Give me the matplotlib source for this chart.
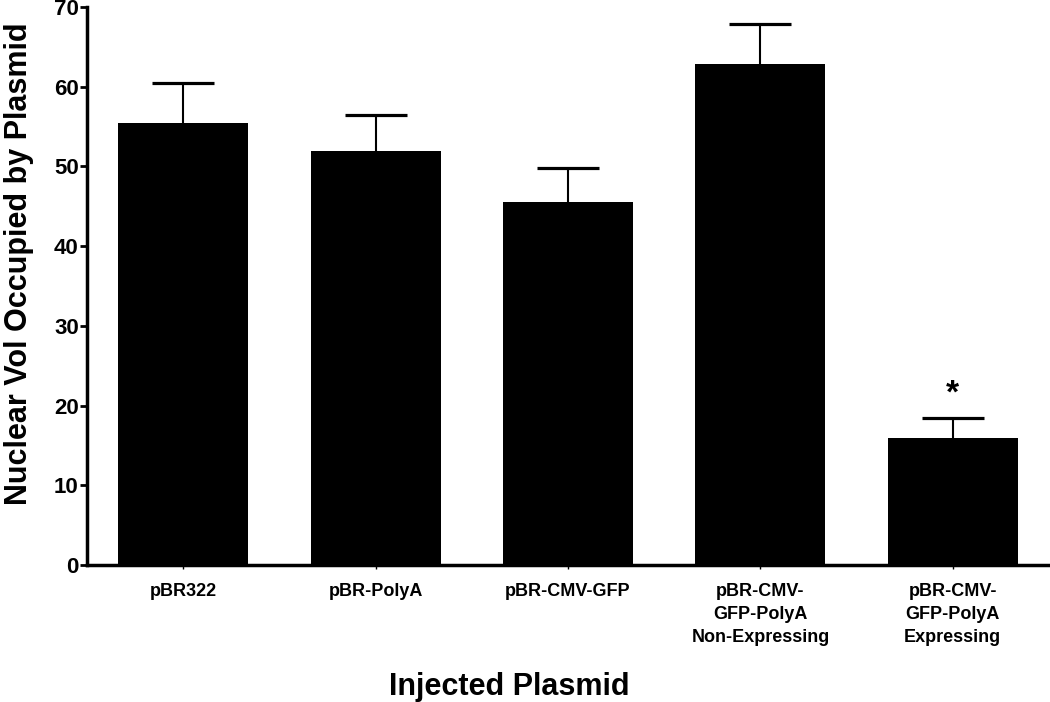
import matplotlib
matplotlib.use('Agg')
from matplotlib import pyplot as plt

plt.rcParams['font.family'] = ['Liberation Sans', 'DejaVu Sans']

# 数据
labels = ['pBR322', 'pBR-PolyA', 'pBR-CMV-GFP',
          'pBR-CMV-\nGFP-PolyA\nNon-Expressing',
          'pBR-CMV-\nGFP-PolyA\nExpressing']
means = [55.4, 52.0, 45.6, 62.9, 15.9]
errors = [5.1, 4.5, 4.2, 5.0, 2.6]

fig = plt.figure(figsize=(10.5, 7.02), dpi=100)
ax = fig.add_axes([0.083, 0.195, 0.916, 0.795])

x = range(len(labels))
ax.bar(x, means, 0.675, color='black', zorder=2)
eb = ax.errorbar(x, means, yerr=[[0] * len(errors), errors], fmt='none',
                 ecolor='black', elinewidth=1.5, capsize=22, capthick=2.3,
                 zorder=1)
# 只保留上方的横帽
eb[1][0].set_visible(False)

# 显著性标记
ax.text(4, means[4] + errors[4] + 1.0, '*', ha='center', va='bottom',
        fontsize=24, fontweight='bold')

ax.set_xlim(-0.5, 4.5)
ax.set_ylim(0, 70)
ax.set_yticks(range(0, 71, 10))
ax.set_xticks(list(x))
ax.set_xticklabels(labels, fontsize=13, fontweight='bold', linespacing=1.45,
                   va='top')

for lbl in ax.get_yticklabels():
    lbl.set_fontsize(16)
    lbl.set_fontweight('bold')

ax.spines['top'].set_visible(False)
ax.spines['right'].set_visible(False)
ax.spines['left'].set_linewidth(2.5)
ax.spines['bottom'].set_linewidth(2.5)
ax.tick_params(axis='y', direction='out', length=5, width=2, pad=1)
ax.tick_params(axis='x', direction='out', length=3, width=1, pad=10)

ax.set_ylabel('Nuclear Vol Occupied by Plasmid', fontsize=22,
              fontweight='bold')
ax.yaxis.set_label_coords(-0.055, 0.54)
fig.text(0.485, 0.0, 'Injected Plasmid', ha='center', va='bottom',
         fontsize=22, fontweight='bold')

plt.savefig('out.png', dpi=100)
